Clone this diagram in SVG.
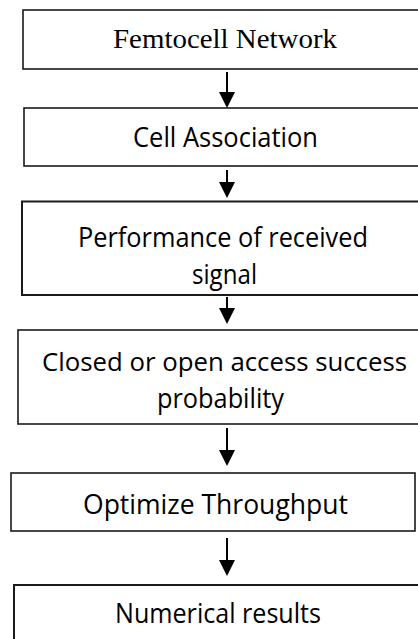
<svg xmlns="http://www.w3.org/2000/svg" width="418" height="639" viewBox="0 0 418 639">
<defs>
<style>
.box{fill:#fff;stroke:#1a1a1a;stroke-width:1.6}
.sans{font-family:"Open Sans","Noto Sans",sans-serif;font-size:27px;fill:#000}
.serif{font-family:"Liberation Serif","Times New Roman",serif;font-size:28px;fill:#000}
.conn{stroke:#000;stroke-width:2;fill:none}
</style>
<marker id="ah" viewBox="0 0 16 16" refX="0" refY="8" markerWidth="16" markerHeight="16" markerUnits="userSpaceOnUse" orient="auto">
<path d="M0,0 L16,8 L0,16 Z" fill="#000"/>
</marker>
</defs>
<rect width="418" height="639" fill="#fff"/>
<g id="n1">
<rect class="box" x="23" y="10" width="420" height="59"/>
<text class="serif" x="113" y="48" textLength="224" lengthAdjust="spacingAndGlyphs">Femtocell Network</text>
</g>
<g id="n2">
<rect class="box" x="24" y="108" width="420" height="58"/>
<text class="sans" x="133" y="147" textLength="185" lengthAdjust="spacingAndGlyphs">Cell Association</text>
</g>
<g id="n3">
<rect class="box" x="22" y="201.5" width="420" height="93.5" style="stroke-width:2"/>
<text class="sans" x="78" y="247" textLength="290" lengthAdjust="spacingAndGlyphs">Performance of received</text>
<text class="sans" x="192" y="284" textLength="65" lengthAdjust="spacingAndGlyphs">signal</text>
</g>
<g id="n4">
<rect class="box" x="18" y="330" width="420" height="94"/>
<text class="sans" x="42" y="371" textLength="365" lengthAdjust="spacingAndGlyphs" style="font-size:25px">Closed or open access success</text>
<text class="sans" x="157" y="408" textLength="127" lengthAdjust="spacingAndGlyphs">probability</text>
</g>
<g id="n5">
<rect class="box" x="11" y="473" width="404" height="58"/>
<text class="sans" x="83" y="514" textLength="265" lengthAdjust="spacingAndGlyphs">Optimize Throughput</text>
</g>
<g id="n6">
<rect class="box" x="14" y="585" width="420" height="70" style="stroke-width:2"/>
<text class="sans" x="115" y="623" textLength="206" lengthAdjust="spacingAndGlyphs">Numerical results</text>
</g>
<g id="connectors">
<line class="conn" x1="227" y1="72" x2="227" y2="92" marker-end="url(#ah)"/>
<line class="conn" x1="227" y1="170" x2="227" y2="182" marker-end="url(#ah)"/>
<line class="conn" x1="227" y1="297" x2="227" y2="308" marker-end="url(#ah)"/>
<line class="conn" x1="227" y1="428" x2="227" y2="450" marker-end="url(#ah)"/>
<line class="conn" x1="227" y1="538" x2="227" y2="560" marker-end="url(#ah)"/>
</g>
</svg>
